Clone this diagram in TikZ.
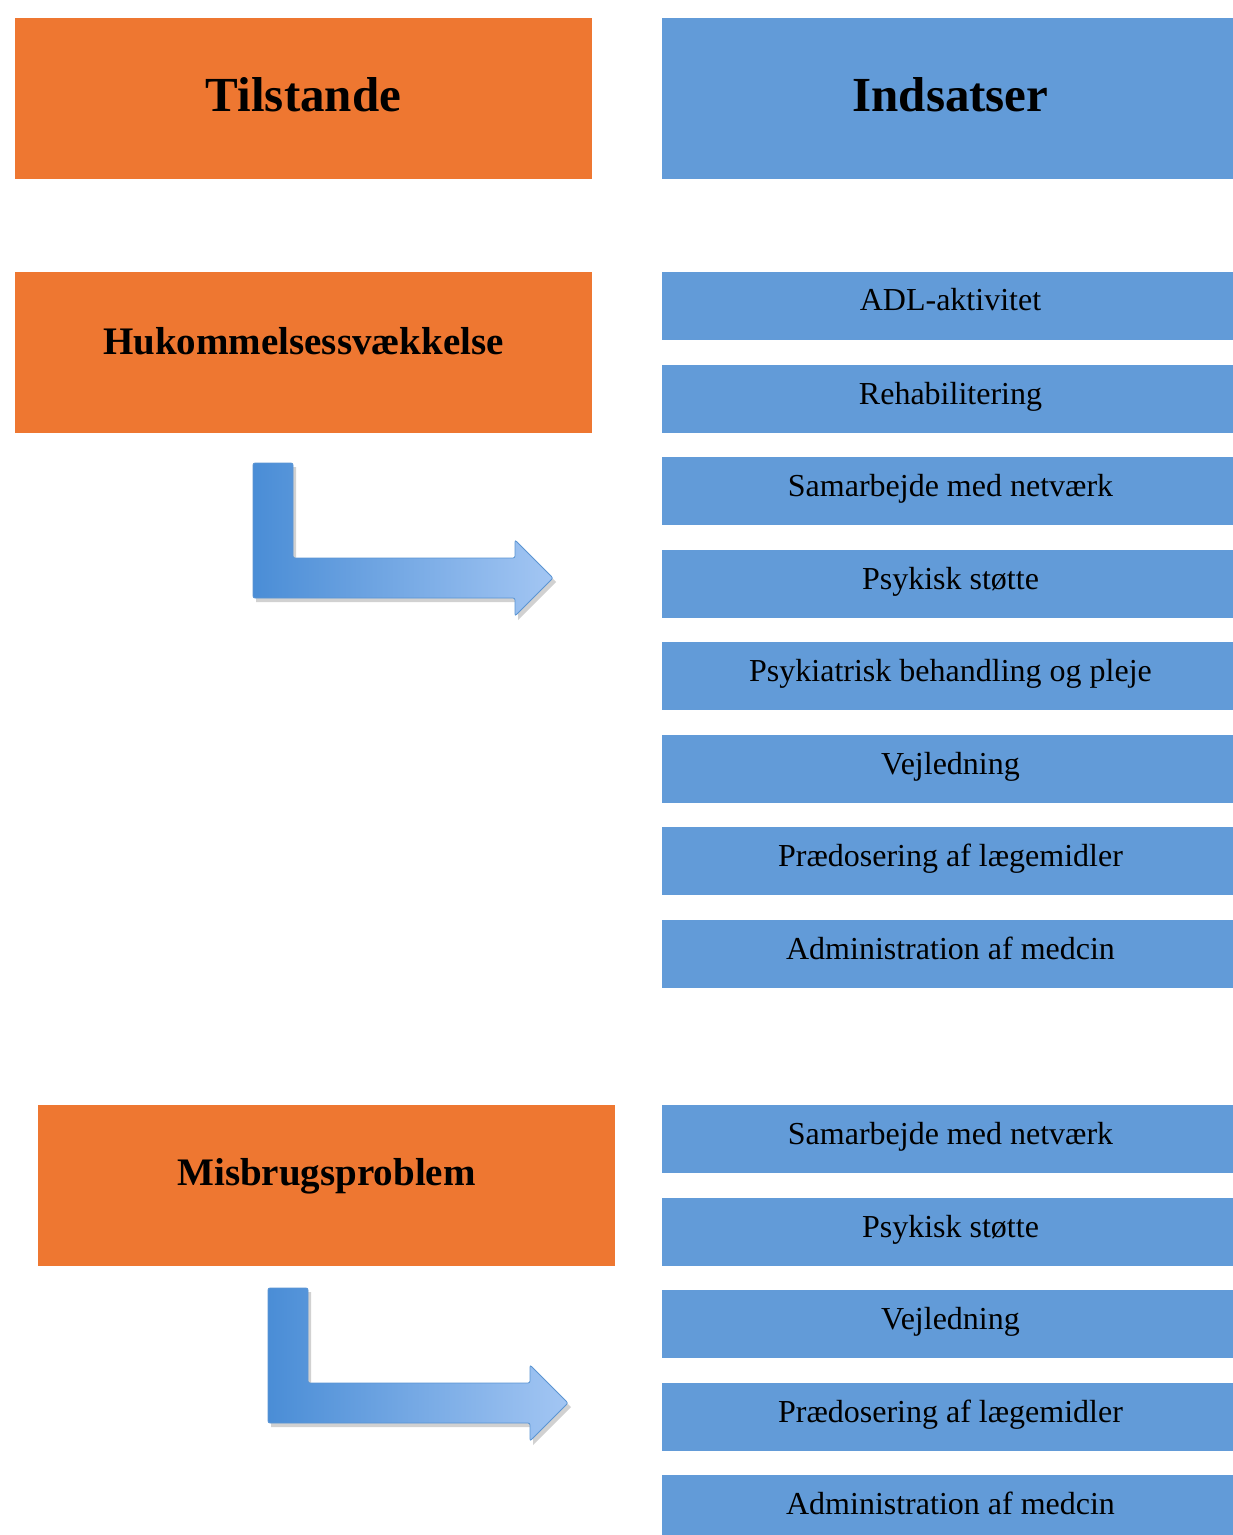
\documentclass[tikz,border=0pt]{standalone}
\usepackage{fontspec}
\setmainfont{Liberation Serif}
\usetikzlibrary{positioning}
\definecolor{orangebox}{HTML}{EE7731}
\definecolor{bluebox}{HTML}{629BD8}
\definecolor{arrowdark}{HTML}{4A8DD6}
\definecolor{arrowlight}{HTML}{A3C6F3}
\definecolor{arrowedge}{HTML}{5B95D3}
\tikzset{
  bigbox/.style={fill=orangebox, draw=none, minimum width=288.5pt, minimum height=80.5pt, inner sep=0pt},
  headblue/.style={fill=bluebox, draw=none, minimum width=288.5pt, minimum height=80.5pt, inner sep=0pt},
  itembox/.style={fill=bluebox, draw=none, minimum width=288.5pt, minimum height=34pt, inner sep=0pt},
  headtext/.style={font=\fontsize{24.5}{28}\selectfont\bfseries, inner sep=0pt, anchor=base},
  condtext/.style={font=\fontsize{19.5}{23}\selectfont\bfseries, inner sep=0pt, anchor=base},
  itemtext/.style={font=\fontsize{16}{19}\selectfont, inner sep=0pt, anchor=base},
}
\newcommand{\mybentarrow}[2]{%
  \begin{scope}[shift={(#1,#2)}]
    \fill[black, opacity=0.18] (3,4) -- (43,4) -- (43,99) -- (265,99) -- (265,81) -- (303,119) -- (265,157) -- (265,139) -- (3,139) -- cycle;
    \shade[left color=arrowdark, right color=arrowlight, draw=arrowedge, line width=0.4pt, rounded corners=1pt]
      (0,0) -- (40,0) -- (40,95) -- (262,95) -- (262,77) -- (300,115) -- (262,153) -- (262,135) -- (0,135) -- cycle;
  \end{scope}}
\begin{document}
\begin{tikzpicture}[x=0.5pt, y=-0.5pt]
\useasboundingbox[fill=white] (0,0) rectangle (1232,1535);
% headers
\node[bigbox] (tilst) at (303.5,98.5) {};
\node[headtext] at ([yshift=-6.5pt]tilst.center) {Tilstande};
\node[headblue] (inds) at (950.5,98.5) {};
\node[headtext] at ([yshift=-6.5pt]inds.center) {Indsatser};
% condition 1
\node[bigbox] (huk) at (303.5,352.5) {};
\node[condtext] at ([yshift=-1.2pt]huk.center) {Hukommelsessvækkelse};
% condition 2
\node[bigbox] (mis) at (326.5,1185.5) {};
\node[condtext] at ([yshift=-0.2pt]mis.center) {Misbrugsproblem};
% items list 1
\foreach \y/\t [count=\i] in {306/ADL-aktivitet, 399/Rehabilitering, 491/Samarbejde med netværk, 584/Psykisk støtte, 676/Psykiatrisk behandling og pleje, 769/Vejledning, 861/Prædosering af lægemidler, 954/Administration af medcin}{
  \node[itembox] (a\i) at (950.5,\y) {};
  \node[itemtext] at ([yshift=-2.5pt]a\i.center) {\t};
}
% items list 2
\foreach \y/\t [count=\i] in {1139/Samarbejde med netværk, 1232/Psykisk støtte, 1324/Vejledning, 1417/Prædosering af lægemidler, 1509/Administration af medcin}{
  \node[itembox] (b\i) at (950.5,\y) {};
  \node[itemtext] at ([yshift=-2.5pt]b\i.center) {\t};
}
% arrows
\mybentarrow{253}{463}
\mybentarrow{268}{1288}
\end{tikzpicture}
\end{document}
